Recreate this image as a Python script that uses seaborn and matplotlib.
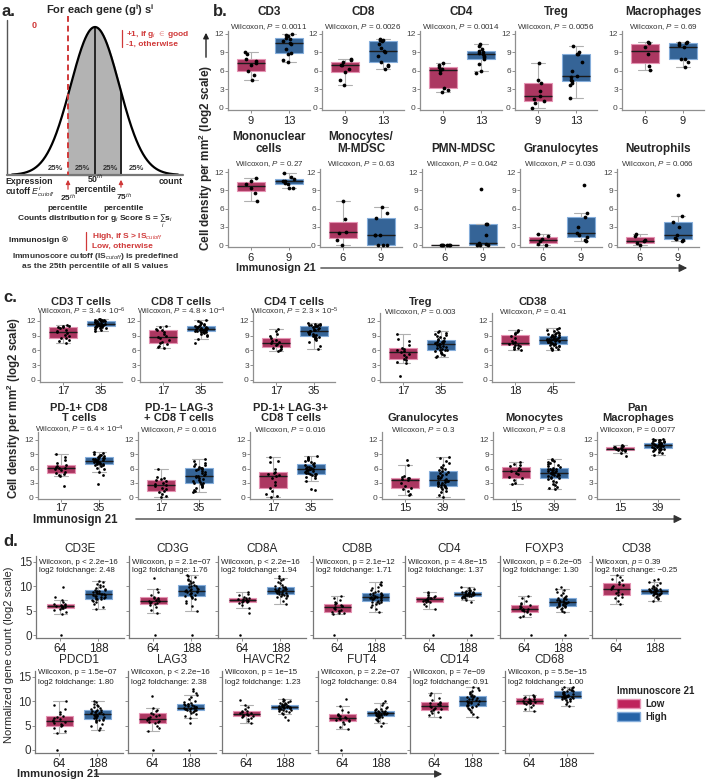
import numpy as np
import pandas as pd
import matplotlib.pyplot as plt
import seaborn as sns
from matplotlib import font_manager
from matplotlib.patches import Patch

sns.set_style("ticks")
names = {f.name for f in font_manager.fontManager.ttflist}
NARROW = "Liberation Sans Narrow" if "Liberation Sans Narrow" in names else "Liberation Sans"
plt.rcParams["font.family"] = ["Liberation Sans", "DejaVu Sans"]
plt.rcParams["mathtext.fontset"] = "custom"
plt.rcParams["mathtext.rm"] = "Liberation Sans"
plt.rcParams["mathtext.it"] = "Liberation Sans:italic"
plt.rcParams["mathtext.bf"] = "Liberation Sans:bold"
np.random.seed(3)

# ---------------- data ----------------
groups = ["Low", "High"]

# panel b
b_titles = ["CD3", "CD8", "CD4", "Treg", "Macrophages",
            "Mononuclear\ncells", "Monocytes/\nM-MDSC", "PMN-MDSC", "Granulocytes", "Neutrophils"]
b_pvals = ["0.0011", "0.0026", "0.0014", "0.0056", "0.69", "0.27", "0.63", "0.042", "0.036", "0.066"]
b_low = [
    [4.5, 5.4, 6.0, 6.9, 7.3, 7.6, 8.0, 8.8, 9.0],
    [3.7, 4.6, 5.9, 6.4, 6.9, 7.0, 7.4, 7.8, 8.0],
    [2.6, 2.9, 3.3, 5.7, 6.1, 6.3, 6.6, 7.0, 7.3],
    [0.0, 0.8, 1.2, 1.5, 1.9, 2.8, 4.1, 4.5, 7.3],
    [6.2, 6.8, 8.7, 9.9, 10.5, 10.7],
    [7.3, 8.6, 9.4, 10.0, 10.5, 11.1],
    [0.0, 0.9, 2.0, 2.2, 4.3, 7.3],
    [0.0, 0.0, 0.0, 0.0, 0.0, 0.0],
    [0.0, 0.2, 0.6, 1.0, 1.4, 1.8],
    [0.0, 0.3, 0.6, 0.8, 1.4, 1.8],
]
b_high = [
    [7.5, 7.7, 8.7, 8.9, 9.6, 10.3, 10.5, 10.8, 11.2, 11.4, 11.6, 11.8, 12.0],
    [6.4, 6.8, 7.0, 7.4, 8.5, 9.0, 9.3, 9.8, 10.4, 10.8, 11.0, 11.1, 11.2],
    [5.7, 6.0, 7.2, 7.9, 8.2, 8.5, 8.7, 8.9, 9.1, 9.3, 9.6, 10.1, 10.4],
    [1.6, 3.7, 4.1, 4.3, 4.6, 5.0, 5.2, 6.0, 7.5, 8.7, 8.8, 9.0, 10.1],
    [6.7, 7.4, 7.9, 8.0, 9.9, 10.2, 10.5, 10.6, 10.7],
    [9.3, 9.4, 10.0, 10.2, 10.5, 10.6, 10.8, 11.2, 11.8],
    [0.0, 0.0, 0.0, 1.6, 1.6, 1.7, 4.5, 5.3, 6.2],
    [0.0, 0.0, 0.0, 0.2, 0.4, 1.6, 3.4, 3.4, 9.2],
    [0.6, 0.8, 1.3, 1.6, 2.0, 3.0, 4.6, 5.3, 9.8],
    [0.6, 0.8, 1.0, 1.2, 1.7, 3.0, 3.8, 4.7, 8.3],
]

# panel c
c_titles = ["CD3 T cells", "CD8 T cells", "CD4 T cells", "Treg", "CD38",
            "PD-1+ CD8\nT cells", "PD-1\u2013 LAG-3\n+ CD8 T cells", "PD-1+ LAG-3+\nCD8 T cells",
            "Granulocytes", "Monocytes", "Pan\nMacrophages"]
c_pvals = ["3.4 \u00d7 10$^{-6}$", "4.8 \u00d7 10$^{-4}$", "2.3 \u00d7 10$^{-5}$", "0.003", "0.41",
           "6.4 \u00d7 10$^{-4}$", "0.0016", "0.016", "0.3", "0.8", "0.0077"]
c_pletter = ["$\\it{P}$"] * 10 + ["P"]
c_low = [
    [7.6, 8.0, 8.2, 8.5, 8.6, 8.9, 9.2, 9.5, 9.8, 10.0, 10.2, 10.5, 10.7, 10.8, 10.9, 11.0, 11.2],
    [6.5, 6.7, 7.0, 7.3, 7.5, 7.8, 8.2, 8.5, 8.8, 9.0, 9.4, 9.8, 10.1, 10.2, 10.4, 10.7, 11.0],
    [5.9, 6.0, 6.2, 6.5, 6.7, 6.9, 7.1, 7.3, 7.5, 7.7, 7.9, 8.2, 8.6, 8.9, 9.4, 9.9, 10.3],
    [0.8, 3.5, 3.7, 4.0, 4.3, 4.6, 5.0, 5.3, 5.6, 5.8, 6.0, 6.3, 6.6, 7.2, 8.0, 8.4, 9.4],
    [6.0, 6.2, 6.5, 6.8, 7.0, 7.1, 7.2, 7.4, 7.5, 7.7, 8.0, 8.5, 9.0, 9.3, 9.5, 9.8, 10.0, 10.2],
    [2.3, 4.4, 4.6, 4.8, 5.0, 5.3, 5.6, 5.9, 6.1, 6.2, 6.3, 6.5, 6.7, 7.2, 7.8, 8.5, 9.0],
    [0.0, 0.3, 0.6, 1.0, 1.3, 1.6, 2.0, 2.3, 2.6, 2.8, 3.0, 3.3, 3.6, 3.8, 4.0, 4.3, 5.8],
    [0.0, 0.3, 0.6, 1.2, 1.8, 2.5, 3.2, 4.0, 4.5, 4.7, 4.9, 5.1, 5.3, 6.0, 7.3, 7.6, 8.5],
    [0.5, 0.7, 1.2, 1.7, 1.9, 2.4, 3.0, 3.5, 3.7, 3.9, 4.0, 4.2, 4.4, 6.7, 7.7],
    [2.7, 3.0, 3.5, 4.0, 4.2, 4.8, 5.1, 5.4, 5.7, 6.0, 6.2, 6.5, 6.8, 7.0, 7.3],
    [8.6, 9.2, 9.6, 9.8, 10.0, 10.0, 10.05, 10.1, 10.2, 10.3, 10.5, 10.6, 10.7, 10.8, 10.9],
]
c_high = [
    [9.9, 10.2, 10.4, 10.5, 10.6, 10.7, 10.8, 10.85, 10.9, 10.9, 11.0, 11.0, 11.1, 11.1, 11.2, 11.2,
     11.25, 11.3, 11.35, 11.4, 11.45, 11.5, 11.6, 11.7, 11.8, 11.9, 11.9, 12.0, 12.0, 12.1, 12.1,
     12.2, 12.2, 12.3, 12.3],
    [7.5, 8.4, 8.9, 9.2, 9.4, 9.6, 9.7, 9.8, 9.85, 9.9, 10.0, 10.0, 10.1, 10.1, 10.2, 10.25, 10.3,
     10.4, 10.45, 10.5, 10.55, 10.6, 10.7, 10.75, 10.8, 10.9, 11.0, 11.1, 11.2, 11.3, 11.5, 11.6,
     11.8, 12.0, 12.2],
    [6.3, 7.0, 7.8, 8.2, 8.4, 8.5, 8.6, 8.7, 8.8, 9.0, 9.1, 9.2, 9.3, 9.4, 9.5, 9.6, 9.8, 9.9,
     10.0, 10.1, 10.2, 10.3, 10.4, 10.5, 10.7, 10.9, 11.0, 11.0, 11.1, 11.1, 11.2, 11.2, 11.3,
     11.4, 11.5],
    [4.6, 4.8, 5.0, 5.2, 5.4, 5.6, 5.8, 6.0, 6.05, 6.1, 6.3, 6.5, 6.7, 6.8, 7.0, 7.1, 7.2, 7.3,
     7.4, 7.5, 7.6, 7.7, 7.8, 7.9, 8.0, 8.1, 8.3, 8.5, 8.7, 8.9, 9.1, 9.3, 9.5, 9.7, 9.9],
    [6.1, 6.2, 6.4, 6.6, 6.8, 6.9, 7.0, 7.1, 7.2, 7.3, 7.35, 7.4, 7.5, 7.6, 7.7, 7.75, 7.8, 7.9,
     7.95, 8.0, 8.05, 8.1, 8.2, 8.25, 8.3, 8.35, 8.4, 8.5, 8.6, 8.7, 8.8, 8.85, 8.9, 9.0, 9.1,
     9.2, 9.3, 9.4, 9.5, 9.6, 9.8, 10.0, 10.2, 10.4, 10.6],
    [2.8, 4.6, 5.2, 5.8, 6.2, 6.5, 6.7, 6.8, 6.85, 6.9, 7.0, 7.1, 7.2, 7.3, 7.4, 7.5, 7.55, 7.6,
     7.7, 7.75, 7.8, 7.9, 8.0, 8.1, 8.2, 8.3, 8.4, 8.5, 8.6, 8.7, 8.8, 8.9, 9.0, 9.2, 9.4],
    [1.0, 1.2, 1.5, 1.8, 2.1, 2.4, 2.6, 2.8, 2.9, 3.0, 3.2, 3.4, 3.6, 3.8, 4.0, 4.2, 4.4, 4.5,
     4.7, 4.9, 5.1, 5.3, 5.5, 5.7, 5.9, 6.0, 6.1, 6.2, 6.4, 6.5, 6.7, 6.9, 7.2, 7.6, 8.1],
    [1.5, 1.7, 3.3, 4.0, 4.3, 4.5, 4.7, 4.8, 4.85, 4.9, 5.0, 5.1, 5.2, 5.4, 5.5, 5.6, 5.7, 5.8,
     5.9, 6.0, 6.1, 6.2, 6.3, 6.4, 6.6, 6.8, 7.0, 7.2, 7.4, 7.6, 7.8, 8.0, 8.3, 8.5, 8.7],
    [0.0, 0.5, 1.0, 1.3, 1.6, 1.9, 2.1, 2.2, 2.3, 2.35, 2.45, 2.6, 2.8, 2.9, 3.0, 3.1, 3.2, 3.3,
     3.4, 3.5, 3.7, 3.9, 4.1, 4.3, 4.5, 4.7, 4.9, 5.1, 5.3, 5.5, 5.7, 5.9, 6.1, 6.4, 6.8, 7.2,
     7.6, 8.2, 8.5],
    [1.6, 1.9, 2.2, 2.5, 2.8, 3.1, 3.4, 3.7, 3.9, 4.0, 4.2, 4.4, 4.5, 4.6, 4.7, 4.8, 4.9, 5.0,
     5.05, 5.1, 5.2, 5.3, 5.4, 5.5, 5.6, 5.7, 5.8, 5.9, 6.0, 6.2, 6.4, 6.6, 6.8, 7.0, 7.2, 7.4,
     7.6, 7.8, 8.0],
    [8.8, 9.2, 9.5, 9.7, 9.9, 10.0, 10.1, 10.15, 10.2, 10.2, 10.3, 10.4, 10.5, 10.6, 10.65, 10.7,
     10.75, 10.8, 10.85, 10.9, 10.95, 11.0, 11.05, 11.1, 11.15, 11.2, 11.25, 11.3, 11.3, 11.4,
     11.5, 11.6, 11.7, 11.8, 11.9, 12.0, 12.1, 12.15, 12.2],
]

# panel d (representative subset of the samples; tick labels give the group sizes)
d_titles = ["CD3E", "CD3G", "CD8A", "CD8B", "CD4", "FOXP3", "CD38",
            "PDCD1", "LAG3", "HAVCR2", "FUT4", "CD14", "CD68"]
d_pvals = ["p < 2.2e\u221216", "p = 2.1e\u221207", "p < 2.2e\u221216", "p = 2.1e\u221212",
           "p = 4.8e\u221215", "p = 6.2e\u221205", "$\\it{p}$ = 0.39",
           "p = 1.5e\u221207", "p < 2.2e\u221216", "p = 1e\u221215", "p = 2.2e\u221207",
           "p = 7e\u221209", "p = 5.5e\u221215"]
d_fc = ["log2 foldchange: 2.48", "log2 foldchange: 1.76", "log2 foldchange: 1.94",
        "log2 foldchange: 1.71", "log2 foldchange: 1.37", "log2 foldchange: 1.30",
        "log2 fold change: \u22120.25",
        "log2 foldchange: 1.80", "log2 foldchange: 2.38", "log2 foldchange: 1.23",
        "log2 foldchange: 0.84", "log2 foldchange: 0.91", "log2 foldchange: 1.00"]
d_n = ["64", "188"]
d_low = [
    [0, 4.3, 4.8, 5.1, 5.4, 5.5, 5.6, 5.7, 5.8, 5.85, 5.95, 6.0, 6.1, 6.2, 6.3, 6.45, 6.7, 7.2, 7.8, 9.9],
    [0, 4.5, 5.2, 5.8, 6.2, 6.35, 6.5, 6.6, 6.8, 6.95, 7.05, 7.2, 7.3, 7.5, 7.7, 7.8, 8.2, 8.8, 9.4, 11.8],
    [0, 4.6, 5.5, 6.2, 6.6, 6.7, 6.8, 6.9, 7.0, 7.05, 7.15, 7.2, 7.3, 7.45, 7.6, 7.7, 7.9, 8.2, 8.5, 8.8],
    [0, 4.3, 4.5, 4.6, 4.75, 4.85, 5.0, 5.2, 5.4, 5.6, 5.8, 5.9, 6.0, 6.2, 6.4, 6.5, 6.8, 7.2, 7.6, 8.0],
    [0, 5.4, 6.0, 6.4, 6.75, 6.85, 6.95, 7.05, 7.15, 7.25, 7.35, 7.45, 7.55, 7.65, 7.8, 7.9, 8.1, 8.3, 8.6, 8.8],
    [0, 3.6, 4.0, 4.4, 4.75, 4.85, 4.95, 5.05, 5.15, 5.25, 5.35, 5.5, 5.7, 5.9, 6.15, 6.3, 6.6, 7.0, 7.5, 8.0],
    [6.3, 7.0, 7.5, 7.9, 8.2, 8.35, 8.6, 8.9, 9.2, 9.4, 9.6, 9.8, 10.0, 10.3, 10.55, 10.8, 11.2, 11.6, 12.0, 12.4],
    [0, 3.5, 4.0, 4.5, 4.9, 5.05, 5.3, 5.5, 5.7, 5.9, 6.1, 6.3, 6.5, 6.8, 7.0, 7.3, 7.8, 8.5, 9.2, 10.0],
    [0, 4.0, 4.5, 5.0, 5.5, 5.65, 5.8, 5.95, 6.1, 6.3, 6.5, 6.7, 6.9, 7.2, 7.45, 7.7, 8.0, 8.3, 8.6, 11.1],
    [5.5, 5.9, 6.3, 6.6, 6.85, 6.95, 7.05, 7.15, 7.25, 7.35, 7.45, 7.55, 7.65, 7.8, 7.95, 8.1, 8.4, 8.8, 9.3, 10.2],
    [0, 4.3, 4.8, 5.3, 5.85, 5.95, 6.1, 6.25, 6.4, 6.55, 6.65, 6.8, 6.95, 7.1, 7.25, 7.45, 7.8, 8.3, 9.0, 10.5],
    [6.8, 7.2, 7.5, 7.8, 8.05, 8.2, 8.35, 8.5, 8.7, 8.9, 9.1, 9.25, 9.4, 9.6, 9.75, 9.95, 10.3, 10.7, 11.2, 11.8],
    [8.0, 8.5, 8.9, 9.2, 9.45, 9.55, 9.65, 9.75, 9.85, 9.95, 10.05, 10.15, 10.25, 10.4, 10.55, 10.7, 10.8, 10.9, 11.0, 11.2],
]
d_high = [
    [5.3, 5.8, 6.3, 6.7, 7.0, 7.2, 7.3, 7.35, 7.4, 7.5, 7.6, 7.8, 7.9, 8.0, 8.1, 8.2, 8.3, 8.35,
     8.45, 8.5, 8.6, 8.7, 8.8, 8.9, 9.0, 9.1, 9.2, 9.3, 9.5, 9.7, 9.9, 10.1, 10.3, 10.5, 10.8, 11.0],
    [0, 5.0, 6.0, 6.6, 7.0, 7.4, 7.7, 7.9, 7.95, 8.05, 8.2, 8.4, 8.6, 8.7, 8.8, 8.9, 9.0, 9.05,
     9.15, 9.3, 9.4, 9.5, 9.7, 9.8, 10.0, 10.1, 10.25, 10.4, 10.6, 10.8, 11.0, 11.3, 11.6, 11.9, 12.1, 12.3],
    [6.4, 7.0, 7.5, 7.8, 8.0, 8.1, 8.2, 8.3, 8.35, 8.45, 8.5, 8.6, 8.7, 8.8, 8.9, 8.95, 9.0, 9.05,
     9.15, 9.2, 9.3, 9.35, 9.4, 9.5, 9.6, 9.7, 9.8, 9.9, 10.1, 10.3, 10.6, 10.9, 11.2, 11.5, 11.8, 12.1],
    [4.7, 5.3, 5.8, 6.2, 6.4, 6.6, 6.7, 6.8, 6.85, 6.95, 7.1, 7.2, 7.3, 7.4, 7.5, 7.6, 7.7, 7.75,
     7.85, 7.9, 8.0, 8.1, 8.2, 8.3, 8.4, 8.5, 8.6, 8.7, 8.9, 9.1, 9.3, 9.6, 9.9, 10.2, 10.5, 10.8],
    [0, 6.8, 7.2, 7.5, 7.7, 7.8, 7.9, 7.95, 7.98, 8.05, 8.1, 8.15, 8.2, 8.25, 8.3, 8.33, 8.37, 8.4,
     8.42, 8.45, 8.5, 8.55, 8.6, 8.65, 8.7, 8.75, 8.8, 8.85, 8.9, 9.0, 9.1, 9.2, 9.3, 9.5, 9.7, 9.9],
    [0, 4.7, 5.0, 5.3, 5.5, 5.7, 5.8, 5.9, 5.95, 6.05, 6.15, 6.25, 6.35, 6.45, 6.5, 6.55, 6.6, 6.65,
     6.75, 6.85, 6.95, 7.05, 7.15, 7.25, 7.35, 7.45, 7.5, 7.6, 7.8, 8.0, 8.3, 8.6, 8.9, 9.2, 9.5, 9.8],
    [7.0, 7.4, 7.7, 7.9, 8.1, 8.2, 8.3, 8.35, 8.38, 8.45, 8.5, 8.6, 8.65, 8.7, 8.8, 8.85, 8.9, 8.95,
     9.05, 9.1, 9.15, 9.2, 9.25, 9.3, 9.35, 9.4, 9.5, 9.55, 9.7, 9.9, 10.1, 10.3, 10.6, 10.9, 11.2, 11.5],
    [4.2, 4.6, 5.0, 5.4, 5.7, 5.9, 6.1, 6.2, 6.25, 6.35, 6.5, 6.6, 6.7, 6.8, 6.9, 7.0, 7.1, 7.25,
     7.35, 7.45, 7.55, 7.65, 7.75, 7.85, 7.95, 8.1, 8.2, 8.3, 8.5, 8.7, 8.9, 9.1, 9.3, 9.5, 9.8, 10.0],
    [0, 5.6, 6.5, 7.0, 7.4, 7.7, 7.9, 8.0, 8.05, 8.15, 8.25, 8.3, 8.4, 8.45, 8.5, 8.55, 8.6, 8.65,
     8.75, 8.85, 8.95, 9.05, 9.15, 9.25, 9.35, 9.45, 9.5, 9.6, 9.8, 10.0, 10.4, 10.8, 11.3, 11.8, 12.2, 12.5],
    [6.2, 6.8, 7.3, 7.6, 7.8, 8.0, 8.1, 8.2, 8.25, 8.35, 8.4, 8.45, 8.5, 8.55, 8.6, 8.65, 8.7, 8.75,
     8.85, 8.9, 8.95, 9.0, 9.05, 9.1, 9.15, 9.2, 9.3, 9.35, 9.45, 9.55, 9.7, 9.85, 10.0, 10.15, 10.3, 10.5],
    [5.0, 5.5, 5.9, 6.2, 6.4, 6.6, 6.7, 6.8, 6.85, 6.95, 7.0, 7.1, 7.15, 7.2, 7.3, 7.35, 7.4, 7.45,
     7.55, 7.6, 7.65, 7.7, 7.75, 7.8, 7.9, 7.95, 8.0, 8.1, 8.2, 8.35, 8.5, 8.7, 8.9, 9.2, 9.6, 10.0],
    [6.8, 7.4, 7.9, 8.2, 8.5, 8.7, 8.8, 8.9, 8.95, 9.05, 9.2, 9.3, 9.45, 9.6, 9.7, 9.8, 9.9, 9.95,
     10.05, 10.15, 10.3, 10.4, 10.5, 10.65, 10.8, 10.9, 11.0, 11.1, 11.3, 11.5, 11.7, 11.9, 12.1, 12.4, 12.7, 13.0],
    [9.0, 9.5, 9.8, 10.1, 10.3, 10.4, 10.5, 10.55, 10.58, 10.65, 10.7, 10.8, 10.85, 10.9, 10.95, 11.0,
     11.05, 11.08, 11.12, 11.2, 11.3, 11.4, 11.5, 11.6, 11.7, 11.85, 12.0, 12.1, 12.2, 12.3, 12.4,
     12.5, 12.6, 12.7, 12.85, 13.0],
]

# panel a schematic: normal curve drawn in pixel space
curve_mu, curve_sd, curve_peak = 95.0, 24.3, 148.0
baseline_y = 175.0

# ---------------- styling / layout ----------------
W, H = 706, 783
LOW, HIGH = "#BF245C", "#2563A7"
LOW_EDGE, HIGH_EDGE = "#E594B4", "#86AEDB"
RED = "#D03838"
PAL = {"Low": LOW, "High": HIGH}
SUB = [NARROW, "DejaVu Sans"]

fig = plt.figure(figsize=(W / 100, H / 100), dpi=100)
ov = fig.add_axes([0, 0, 1, 1])
ov.set_xlim(0, W)
ov.set_ylim(H, 0)
ov.axis("off")


def axes_at(left, width, y_zero, ppu, ylim):
    top = y_zero - ylim[1] * ppu
    bottom = y_zero - ylim[0] * ppu
    return fig.add_axes([left / W, 1 - bottom / H, width / W, (bottom - top) / H])


def draw_box(ax, lo, hi, size, xlim, ylim, yticks):
    df = pd.DataFrame({"group": ["Low"] * len(lo) + ["High"] * len(hi),
                       "value": list(lo) + list(hi)})
    sns.boxplot(data=df, x="group", y="value", hue="group", order=groups, hue_order=groups,
                palette=PAL, width=0.72, linewidth=0.8, linecolor="#b0b0b0", showfliers=False,
                medianprops=dict(color="#1b1b1b", linewidth=1.0), legend=False, ax=ax)
    for patch, ec in zip(ax.patches, [LOW_EDGE, HIGH_EDGE]):
        patch.set_edgecolor(ec)
    sns.stripplot(data=df, x="group", y="value", order=groups, color="black", size=size,
                  jitter=0.17, linewidth=0, zorder=4, ax=ax)
    ax.set_xlim(*xlim)
    ax.set_ylim(*ylim)
    ax.set_yticks(yticks)
    ax.set_xlabel("")
    ax.set_ylabel("")
    ax.set_facecolor("none")
    sns.despine(ax=ax)
    for s in ["left", "bottom"]:
        ax.spines[s].set_color("#8f8f8f")
        ax.spines[s].set_linewidth(0.9)
    ax.tick_params(length=2, width=0.7, color="#8f8f8f")


# ---------------- panel a ----------------
ov.text(2, 11, "a.", fontsize=12, fontweight="bold", va="center")
xs = np.linspace(12, 178, 300)
ys = baseline_y - curve_peak * np.exp(-(xs - curve_mu) ** 2 / (2 * curve_sd ** 2))
sns.lineplot(x=xs, y=ys, color="black", linewidth=1.6, sort=False, ax=ov)
sel = (xs >= 68) & (xs <= 121)
ov.fill_between(xs[sel], ys[sel], baseline_y, color="#b3b3b3", zorder=0)
for xv in [95, 121]:
    yv = baseline_y - curve_peak * np.exp(-(xv - curve_mu) ** 2 / (2 * curve_sd ** 2))
    ov.plot([xv, xv], [baseline_y, yv], color="black", lw=1.1)
ov.plot([7, 7], [20, baseline_y], color="#555", lw=1.0)
ov.plot([7, 183], [baseline_y, baseline_y], color="#777", lw=1.6)
ov.plot([68, 68], [16, baseline_y], color=RED, lw=1.4, ls=(0, (3, 2)))
for xv in [55, 82, 110, 136]:
    ov.text(xv, 169, "25%", fontsize=5.5, fontweight="bold", ha="center", va="center",
            color="#333", family=SUB)
af = dict(family=SUB, fontweight="bold")
ov.text(100, 10, "For each gene (g$^{\\mathbf{i}}$) s$^{\\mathbf{i}}$", fontsize=8, ha="center",
        va="center", **af)
ov.text(34, 26, "0", fontsize=6.5, color=RED, ha="center", va="center", **af)
ov.plot([122, 122], [30, 47], color=RED, lw=0.9)
ov.text(126, 34, "+1, if g$_i$ $\\in$ good", fontsize=6, color=RED, va="center", **af)
ov.text(126, 44, "-1, otherwise", fontsize=6, color=RED, va="center", **af)
ov.text(5, 181, "Expression", fontsize=6.3, va="center", **af)
ov.text(5, 192, "cutoff $\\mathit{E}^{i}_{\\mathit{cutoff}}$", fontsize=6.3, va="center", **af)
ov.text(95, 179, "50$^{th}$", fontsize=6.3, ha="center", va="center", **af)
ov.text(95, 189, "percentile", fontsize=6.3, ha="center", va="center", **af)
ov.text(183, 181, "count", fontsize=6.3, ha="right", va="center", **af)
ov.annotate("", xy=(68, 177), xytext=(68, 192),
            arrowprops=dict(arrowstyle="-|>", color=RED, lw=0.9, mutation_scale=6))
ov.annotate("", xy=(121, 177), xytext=(121, 190),
            arrowprops=dict(arrowstyle="-|>", color=RED, lw=0.9, mutation_scale=6))
ov.text(68, 198, "25$^{th}$", fontsize=6, ha="center", va="center", **af)
ov.text(68, 208, "percentile", fontsize=6, ha="center", va="center", **af)
ov.text(124, 197, "75$^{th}$", fontsize=6, ha="center", va="center", **af)
ov.text(124, 208, "percentile", fontsize=6, ha="center", va="center", **af)
ov.text(95, 221, "Counts distribution for g$_i$ Score S = $\\sum_i$s$_i$", fontsize=6,
        ha="center", va="center", color="#222", **af)
ov.text(38, 240, "Immunosign \u00ae", fontsize=6, ha="center", va="center", color="#222", **af)
ov.plot([86, 86], [232, 250], color=RED, lw=0.9)
ov.text(92, 236, "High, if S > IS$_{cutoff}$", fontsize=6, color=RED, va="center", **af)
ov.text(92, 246, "Low, otherwise", fontsize=6, color=RED, va="center", **af)
ov.text(95, 257, "Immunoscore cutoff (IS$_{cutoff}$) is predefined", fontsize=6,
        ha="center", va="center", color="#333", **af)
ov.text(95, 267, "as the 25th percentile of all S values", fontsize=6, ha="center",
        va="center", color="#333", **af)

# ---------------- panel b ----------------
ov.text(213, 11, "b.", fontsize=12, fontweight="bold", va="center")
b_left = [228, 322, 420, 515, 622, 228, 320, 422, 520, 617]
b_row = [(108, 6.17, 18, 27)] * 5 + [(245, 6.08, 155, 164)] * 5
for i in range(10):
    y0, ppu, ty, sy = b_row[i]
    ax = axes_at(b_left[i], 82, y0, ppu, (-0.4, 12.5))
    draw_box(ax, b_low[i], b_high[i], 2.7, (-0.6, 1.55), (-0.4, 12.5), [0, 3, 6, 9, 12])
    ax.set_xticks([0, 1], [str(len(b_low[i])), str(len(b_high[i]))])
    ax.tick_params(axis="x", labelsize=8, pad=2, labelcolor="#222")
    ax.tick_params(axis="y", labelsize=6, pad=1, labelcolor="#444")
    cx = b_left[i] + 41
    ov.text(cx, ty, b_titles[i], fontsize=8.5, fontweight="bold", ha="center", va="bottom",
            linespacing=0.95)
    ov.text(cx, sy, "Wilcoxon, $\\it{P}$ = " + b_pvals[i], fontsize=5.8, ha="center",
            va="center", color="#333", family=SUB)
ov.text(206, 158, "Cell density per mm$^{\\mathbf{2}}$ (log2 scale)", fontsize=8.5,
        fontweight="bold", rotation=90, ha="center", va="center")
ov.annotate("", xy=(206, 30), xytext=(206, 60),
            arrowprops=dict(arrowstyle="-|>", color="#222", lw=1.0, mutation_scale=8))
ov.text(236, 268, "Immunosign 21", fontsize=7.8, fontweight="bold", va="center")
ov.annotate("", xy=(690, 268), xytext=(318, 268),
            arrowprops=dict(arrowstyle="-|>", color="#333", lw=0.9, mutation_scale=12))

# ---------------- panel c ----------------
ov.text(3, 297, "c.", fontsize=12, fontweight="bold", va="center")
c_left = [40, 140, 253, 380, 492, 38, 138, 250, 382, 493, 597]
c_row = [(380, 4.92, 307, 312)] * 5 + [(497, 4.75, 423, 430)] * 6
for i in range(11):
    y0, ppu, ty, sy = c_row[i]
    ax = axes_at(c_left[i], 82, y0, ppu, (-0.4, 13.6))
    draw_box(ax, c_low[i], c_high[i], 2.0, (-0.6, 1.55), (-0.4, 13.6), [0, 3, 6, 9, 12])
    ax.set_xticks([0, 1], [str(len(c_low[i])), str(len(c_high[i]))])
    ax.tick_params(axis="x", labelsize=8, pad=1, labelcolor="#222")
    ax.tick_params(axis="y", labelsize=6, pad=1, labelcolor="#444")
    cx = c_left[i] + 41
    ov.text(cx, ty, c_titles[i], fontsize=8, fontweight="bold", ha="center", va="bottom",
            linespacing=0.95)
    ov.text(cx, sy, "Wilcoxon, " + c_pletter[i] + " = " + c_pvals[i], fontsize=5.8,
            ha="center", va="center", color="#333", family=SUB)
ov.text(14, 408, "Cell density per mm$^{\\mathbf{2}}$ (log2 scale)", fontsize=8.3,
        fontweight="bold", rotation=90, ha="center", va="center")
ov.text(33, 520, "Immunosign 21", fontsize=8.3, fontweight="bold", va="center")
ov.annotate("", xy=(685, 519), xytext=(133, 519),
            arrowprops=dict(arrowstyle="-|>", color="#333", lw=0.9, mutation_scale=12))

# ---------------- panel d ----------------
ov.text(3, 541, "d.", fontsize=12, fontweight="bold", va="center")
d_left = [36, 129, 218, 313, 405, 500, 592, 35, 128, 222, 318, 410, 505]
d_row = [(635, 4.87, 549, 562, 571)] * 7 + [(750, 4.87, 660, 673, 683)] * 6
for i in range(13):
    y0, ppu, ty, sy, fy = d_row[i]
    ax = axes_at(d_left[i], 88, y0, ppu, (-0.6, 16.3))
    draw_box(ax, d_low[i], d_high[i], 1.8, (-0.64, 1.67), (-0.6, 16.3), [0, 5, 10, 15])
    ax.set_xticks([0, 1], d_n)
    ax.tick_params(axis="x", labelsize=8.5, pad=2, labelcolor="#222")
    ax.tick_params(axis="y", labelsize=8.5, pad=1, labelcolor="#333")
    if i not in (0, 7):
        ax.tick_params(axis="y", labelleft=False)
    for s in ["left", "bottom"]:
        ax.spines[s].set_color("#777")
    ov.text(d_left[i] + 44, ty, d_titles[i], fontsize=8.5, ha="center", va="center")
    ov.text(d_left[i] + 3, sy, "Wilcoxon, " + d_pvals[i], fontsize=5.7, va="center",
            color="#222", family=SUB)
    ov.text(d_left[i] + 3, fy, d_fc[i], fontsize=5.7, va="center", color="#222", family=SUB)
ov.text(9, 655, "Normalized gene count (log2 scale)", fontsize=8, rotation=90,
        ha="center", va="center")
ov.text(17, 774, "Immunosign 21", fontsize=8, fontweight="bold", va="center")
ov.annotate("", xy=(445, 774), xytext=(92, 774),
            arrowprops=dict(arrowstyle="-|>", color="#333", lw=0.9, mutation_scale=11))

fig.legend(handles=[Patch(facecolor=LOW, edgecolor=LOW_EDGE, label="Low"),
                    Patch(facecolor=HIGH, edgecolor=HIGH_EDGE, label="High")],
           title="Immunoscore 21", loc="upper left", bbox_to_anchor=(612 / W, 1 - 681 / H),
           frameon=False, prop={"weight": "bold", "size": 7},
           title_fontproperties={"weight": "bold", "size": 7}, alignment="left",
           handlelength=2.4, handleheight=1.1, labelspacing=0.3, borderpad=0,
           handletextpad=0.5)

fig.savefig("out.png", dpi=100)
